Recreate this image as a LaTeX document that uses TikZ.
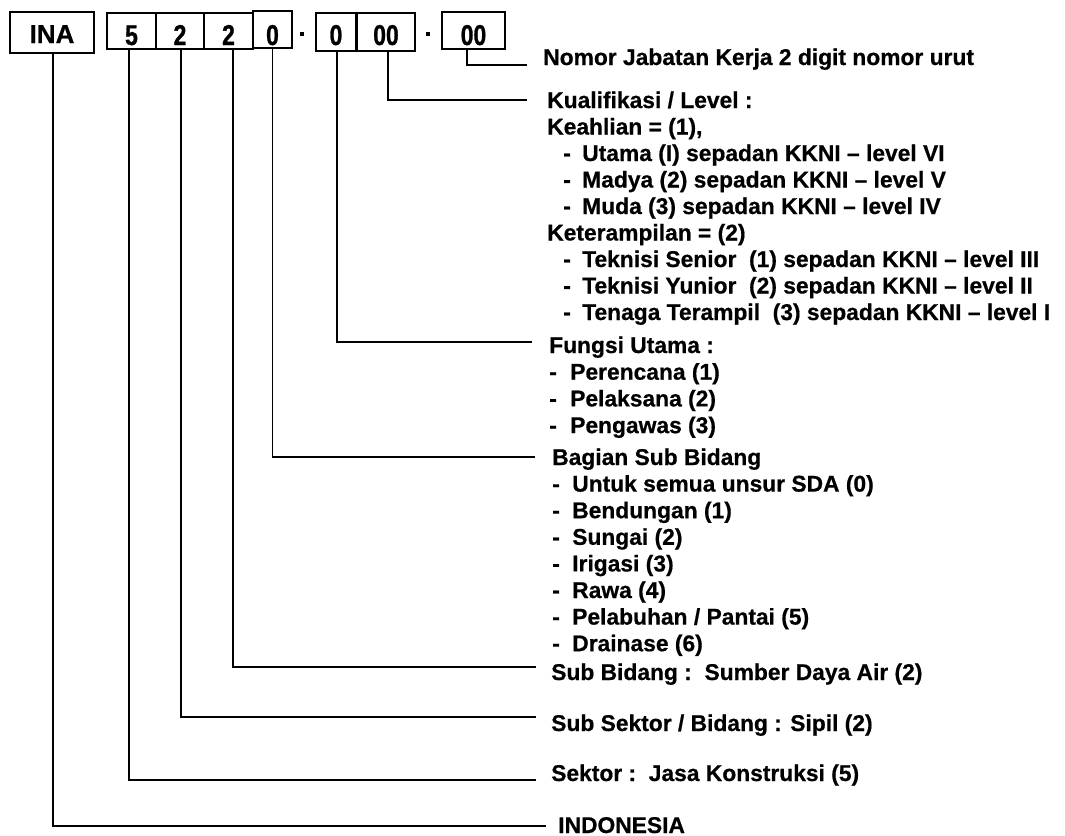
\documentclass[tikz,border=0pt]{standalone}
\usepackage{fontspec}
\usepackage{graphicx}
\setmainfont{Liberation Sans}[BoldFeatures={FakeBold=0.6}]
\newfontfamily\dgfont[FakeBold=1.2]{Liberation Sans Bold}
\newcommand\dsh[1]{\makebox[#1][l]{-}}
\newcommand\dg[1]{\scalebox{0.8}[1]{\dgfont #1}}
\begin{document}
\begin{tikzpicture}[x=0.75pt,y=-0.75pt,
  txt/.style={anchor=base west, inner sep=0pt, font=\fontsize{17.1}{20}\selectfont\bfseries},
  codebox/.style={draw, line width=1.2pt, inner sep=0pt, text depth=0pt, font=\fontsize{21.5}{21.5}\selectfont\bfseries},
  dotmark/.style={fill=black, inner sep=0pt, minimum width=3.6pt, minimum height=3pt},
  conn/.style={line width=0.9pt}]
\useasboundingbox (0,0) rectangle (1065,836);

% code boxes
\node[codebox, minimum width=63pt, minimum height=30.75pt, text height=15.75pt, font=\fontsize{19.5}{19.5}\selectfont\bfseries] (ina) at (52,32.5) {INA};
\node[codebox, minimum width=36.75pt, minimum height=27pt, text height=21pt] (b5) at (131.5,31) {\dg{5}};
\node[codebox, minimum width=36pt, minimum height=27pt, text height=21pt] (b2a) at (180,31) {\dg{2}};
\node[codebox, minimum width=36.75pt, minimum height=27pt, text height=21pt] (b2b) at (228.5,31) {\dg{2}};
\node[codebox, minimum width=29.25pt, minimum height=27.75pt, text height=23.25pt] (b0a) at (272.5,29.5) {\dg{0}};
\node[dotmark] (d1) at (302,34) {};
\node[codebox, minimum width=30pt, minimum height=28.5pt, text height=19.5pt] (b0b) at (336,32) {\dg{0}};
\node[codebox, minimum width=43.5pt, minimum height=28.5pt, text height=19.5pt] (b00a) at (386,32) {\dg{00}};
\node[dotmark] (d2) at (428,34) {};
\node[codebox, minimum width=47.25pt, minimum height=27.75pt, text height=21.75pt] (b00b) at (473.5,30.5) {\dg{00}};

% connector ends
\coordinate (eNo) at (527,65);
\coordinate (eKu) at (527,100);
\coordinate (eFu) at (532,342);
\coordinate (eBa) at (535,457);
\coordinate (eSB) at (536,667);
\coordinate (eSS) at (536,717);
\coordinate (eSe) at (536,780);
\coordinate (eIN) at (546,826);

\draw[conn] ([xshift=-4.875pt]b00b.south) |- (eNo);
\draw[conn] ([xshift=1.5pt]b00a.south) |- (eKu);
\draw[conn] ([xshift=0.75pt]b0b.south) |- (eFu);
\draw[conn] (b0a.south) |- (eBa);
\draw[conn] ([xshift=3.375pt]b2b.south) |- (eSB);
\draw[conn] ([xshift=0.75pt]b2a.south) |- (eSS);
\draw[conn] ([xshift=-1.875pt]b5.south) |- (eSe);
\draw[conn] ([xshift=0.75pt]ina.south) |- (eIN);

% texts
\node[txt] (tNo) at (543,65) {Nomor Jabatan Kerja 2 digit nomor urut};

\node[txt] (k0) at (547,108) {Kualifikasi / Level :};
\node[txt] (k1) at (547,134.5) {Keahlian = (1),};
\node[txt] (k2) at (563,161) {\dsh{14.25pt}Utama (I) sepadan KKNI – level VI};
\node[txt] (k3) at (563,187.5) {\dsh{14.25pt}Madya (2) sepadan KKNI – level V};
\node[txt] (k4) at (563,214) {\dsh{14.25pt}Muda (3) sepadan KKNI – level IV};
\node[txt] (k5) at (547,240.5) {Keterampilan = (2)};
\node[txt] (k6) at (563,267) {\dsh{14.25pt}Teknisi Senior\ \ (1) sepadan KKNI – level III};
\node[txt] (k7) at (563,293.5) {\dsh{14.25pt}Teknisi Yunior\ \ (2) sepadan KKNI – level II};
\node[txt] (k8) at (563,320) {\dsh{14.25pt}Tenaga Terampil\ \ (3) sepadan KKNI – level I};

\node[txt] (f0) at (549,353) {Fungsi Utama :};
\node[txt] (f1) at (549,379.7) {\dsh{15.75pt}Perencana (1)};
\node[txt] (f2) at (549,406.4) {\dsh{15.75pt}Pelaksana (2)};
\node[txt] (f3) at (549,433.1) {\dsh{15.75pt}Pengawas (3)};

\node[txt] (g0) at (552,465) {Bagian Sub Bidang};
\node[txt] (g1) at (552,491.6) {\dsh{15pt}Untuk semua unsur SDA (0)};
\node[txt] (g2) at (552,518.2) {\dsh{15pt}Bendungan (1)};
\node[txt] (g3) at (552,544.8) {\dsh{15pt}Sungai (2)};
\node[txt] (g4) at (552,571.4) {\dsh{15pt}Irigasi (3)};
\node[txt] (g5) at (552,598) {\dsh{15pt}Rawa (4)};
\node[txt] (g6) at (552,624.6) {\dsh{15pt}Pelabuhan / Pantai (5)};
\node[txt] (g7) at (552,651.2) {\dsh{15pt}Drainase (6)};

\node[txt] (tSB) at (551,680) {Sub Bidang :\ \ Sumber Daya Air (2)};
\node[txt] (tSS) at (551,731) {Sub Sektor / Bidang : Sipil (2)};
\node[txt] (tSe) at (551,781) {Sektor :\ \ Jasa Konstruksi (5)};
\node[txt] (tIN) at (558,833) {INDONESIA};
\end{tikzpicture}
\end{document}
